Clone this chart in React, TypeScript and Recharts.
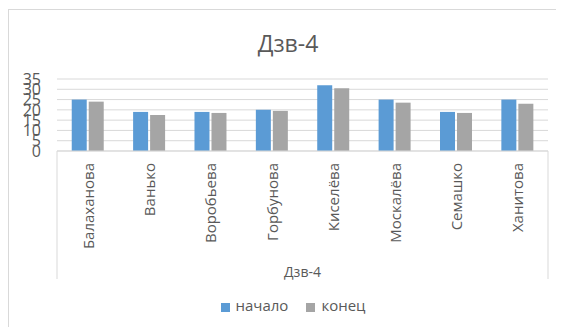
import React from 'react';
import { BarChart, Bar, XAxis, YAxis, CartesianGrid, Legend } from 'recharts';

const students = ['Балаханова', 'Ванько', 'Воробьева', 'Горбунова', 'Киселёва', 'Москалёва', 'Семашко', 'Ханитова'];
const startScores = [25, 19, 19, 20, 32, 25, 19, 25];
const endScores = [24, 17.5, 18.5, 19.5, 30.5, 23.5, 18.5, 23];
const yTicks = [0, 5, 10, 15, 20, 25, 30, 35];

const data = students.map((name, i) => ({ name, start: startScores[i], end: endScores[i] }));

const FONT = '"Open Sans", sans-serif';
const TEXT = '#595959';
const GRID = '#D9D9D9';

const NameTick = (props: any) => {
    const { x, y, payload } = props;
    const ty = y + 12;
    return (
        <text
            x={x}
            y={ty}
            transform={`rotate(-90, ${x}, ${ty})`}
            textAnchor="end"
            dominantBaseline="central"
            fontSize={15}
            fontFamily={FONT}
            fill={TEXT}
        >
            {payload.value}
        </text>
    );
};

const GroupLabel = (props: any) => {
    const vb = props.viewBox || {};
    const x0 = vb.x;
    const x1 = vb.x + vb.width;
    const y0 = vb.y;
    return (
        <g>
            <line x1={x0} y1={y0} x2={x0} y2={y0 + 128} stroke={GRID} strokeWidth={1} />
            <line x1={x1} y1={y0} x2={x1} y2={y0 + 128} stroke={GRID} strokeWidth={1} />
            <text x={(x0 + x1) / 2} y={y0 + 120} textAnchor="middle" dominantBaseline="central" fontSize={14} fontFamily={FONT} fill={TEXT}>
                Дзв-4
            </text>
        </g>
    );
};

export default function App() {
    return (
        <div style={{ position: 'relative', width: 556, height: 318, marginTop: 1 }}>
            <div style={{ position: 'absolute', left: 0, top: 0, width: 600, height: 400, borderLeft: `1px solid ${GRID}`, borderTop: `1px solid ${GRID}` }} />
            <div style={{ position: 'absolute', left: 0, top: 0 }}>
                <BarChart
                    width={556}
                    height={318}
                    data={data}
                    margin={{ top: 70, right: 16, left: 0, bottom: 12 }}
                    barCategoryGap="24%"
                    barGap={2}
                >
                    <text x={280} y={43} textAnchor="middle" fontSize={23} fontFamily={FONT} fill={TEXT}>
                        Дзв-4
                    </text>
                    <CartesianGrid vertical={false} stroke={GRID} />
                    <XAxis
                        dataKey="name"
                        interval={0}
                        height={144}
                        tickLine={false}
                        tickSize={0}
                        tickMargin={0}
                        axisLine={{ stroke: GRID }}
                        tick={<NameTick />}
                        label={<GroupLabel />}
                    />
                    <YAxis
                        width={49}
                        domain={[0, 35]}
                        ticks={yTicks}
                        interval={0}
                        axisLine={false}
                        tickLine={false}
                        tickMargin={10}
                        tick={{ fontSize: 16, fontFamily: FONT, fill: TEXT }}
                    />
                    <Legend
                        verticalAlign="bottom"
                        align="center"
                        iconType="square"
                        iconSize={9}
                        itemSorter={null}
                        wrapperStyle={{ paddingLeft: 24 }}
                        formatter={(v: string) => (
                            <span style={{ color: TEXT, fontSize: 15, fontFamily: FONT, marginLeft: 2, marginRight: 8 }}>{v}</span>
                        )}
                    />
                    <Bar dataKey="start" name="начало" fill="#5B9BD5" isAnimationActive={false} />
                    <Bar dataKey="end" name="конец" fill="#A5A5A5" isAnimationActive={false} />
                </BarChart>
            </div>
        </div>
    );
}
